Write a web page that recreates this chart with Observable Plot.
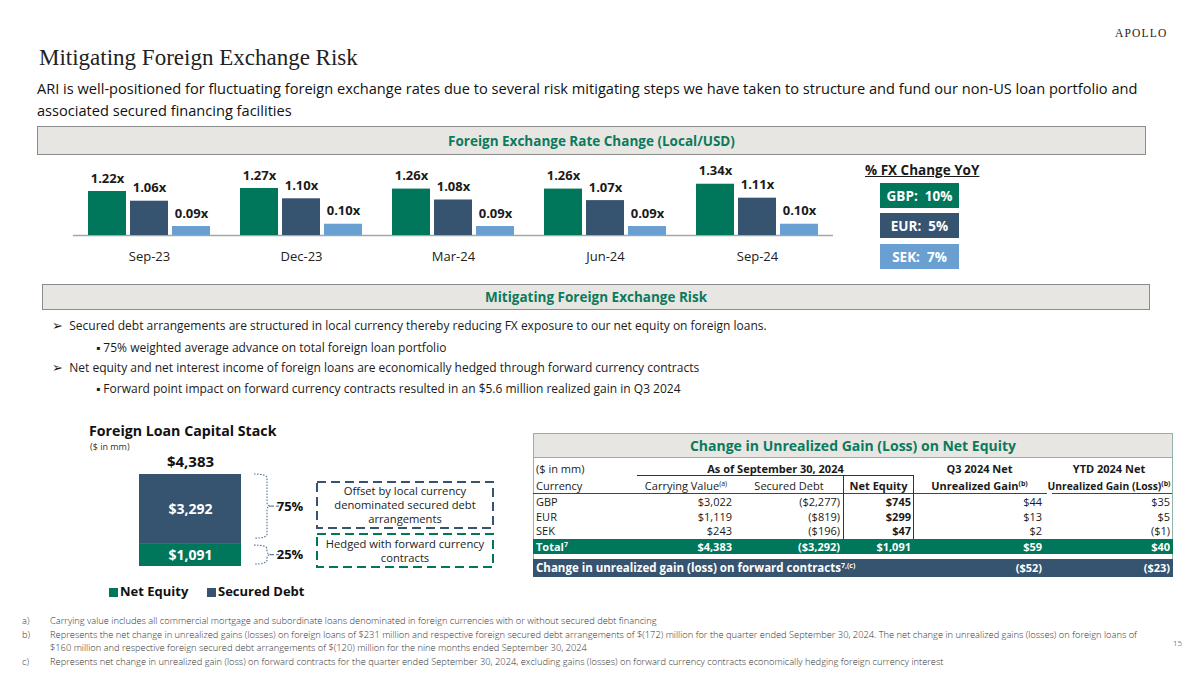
<!DOCTYPE html>
<html><head><meta charset="utf-8">
<script src="https://cdn.jsdelivr.net/npm/d3@7"></script>
<script src="https://cdn.jsdelivr.net/npm/@observablehq/plot@0.6"></script>
<style>
body{margin:0;background:#fff;}
#page{position:relative;width:1200px;height:675px;overflow:hidden;font-family:"Open Sans",sans-serif;color:#1a1a1a;}
.abs{position:absolute;white-space:nowrap;}
.band{position:absolute;background:#e8e6e3;border:1.5px solid #8c8c8c;box-sizing:border-box;color:#0b7a5c;font-weight:bold;font-size:13.5px;display:flex;align-items:center;justify-content:center;}
.bul{position:absolute;font-size:12px;white-space:nowrap;color:#1a1a1a;}
.legbox{position:absolute;left:880px;width:79px;height:25px;color:#fff;font-weight:bold;font-size:13.5px;display:flex;align-items:center;justify-content:center;white-space:pre;}
.foot{position:absolute;font-size:9.3px;white-space:nowrap;color:#333;font-weight:300;}
.cell{position:absolute;font-size:11px;white-space:nowrap;line-height:14px;}
sup{font-size:7px;line-height:0;vertical-align:4px;}
</style></head><body><div id="page">
<div class="abs" style="left:1115px;top:27px;font-family:'Liberation Serif',serif;font-size:11.5px;letter-spacing:1.2px;color:#222;">APOLLO</div>
<div class="abs" style="left:39px;top:45px;font-family:'Liberation Serif',serif;font-size:23px;color:#222;">Mitigating Foreign Exchange Risk</div>
<div class="abs" style="left:37px;top:77px;font-size:14.6px;line-height:22px;color:#111;">ARI is well-positioned for fluctuating foreign exchange rates due to several risk mitigating steps we have taken to structure and fund our non-US loan portfolio and<br>associated secured financing facilities</div>
<div class="band" style="left:37px;top:126px;width:1109px;height:29px;">Foreign Exchange Rate Change (Local/USD)</div>
<div id="fxA" class="abs" style="left:61px;top:160px;"></div>
<div id="fxB" class="abs" style="left:61px;top:160px;"></div>
<div class="abs" style="left:865px;top:161px;width:109px;text-align:center;font-weight:bold;font-size:13.5px;text-decoration:underline;">% FX Change YoY</div>
<div id="fxLegend"></div>
<div class="band" style="left:42px;top:284px;width:1108px;height:26px;">Mitigating Foreign Exchange Risk</div>
<div class="bul" style="left:52px;top:316px;"><span style="font-size:13px">&#10146;</span>&nbsp;&nbsp;Secured debt arrangements are structured in local currency thereby reducing FX exposure to our net equity on foreign loans.</div>
<div class="bul" style="left:96px;top:339px;">&#9642; 75% weighted average advance on total foreign loan portfolio</div>
<div class="bul" style="left:52px;top:358px;"><span style="font-size:13px">&#10146;</span>&nbsp;&nbsp;Net equity and net interest income of foreign loans are economically hedged through forward currency contracts</div>
<div class="bul" style="left:96px;top:380px;">&#9642; Forward point impact on forward currency contracts resulted in an $5.6 million realized gain in Q3 2024</div>
<div class="abs" style="left:89px;top:421px;font-weight:bold;font-size:14.2px;color:#111;">Foreign Loan Capital Stack</div>
<div class="abs" style="left:90px;top:440px;font-size:9px;color:#333;">($ in mm)</div>
<div id="stack" class="abs" style="left:100px;top:440px;"></div>
<div id="notes"></div>
<div id="stackLegend"></div>
<div id="table"></div>
<div class="foot" style="left:22px;top:614px;">a)</div>
<div class="foot" style="left:50px;top:614px;">Carrying value includes all commercial mortgage and subordinate loans denominated in foreign currencies with or without secured debt financing</div>
<div class="foot" style="left:22px;top:628px;">b)</div>
<div class="foot" style="left:50px;top:628px;">Represents the net change in unrealized gains (losses) on foreign loans of $231 million and respective foreign secured debt arrangements of $(172) million for the quarter ended September 30, 2024. The net change in unrealized gains (losses) on foreign loans of</div>
<div class="foot" style="left:50px;top:641px;">$160 million and respective foreign secured debt arrangements of $(120) million for the nine months ended September 30, 2024</div>
<div class="foot" style="left:22px;top:655px;">c)</div>
<div class="foot" style="left:50px;top:655px;">Represents net change in unrealized gain (loss) on forward contracts for the quarter ended September 30, 2024, excluding gains (losses) on forward currency contracts economically hedging foreign currency interest</div>
<div class="foot" style="left:1173px;top:637px;font-size:8px;">15</div>
</div>
<script>
// ---------- data ----------
const periods = ["Sep-23", "Dec-23", "Mar-24", "Jun-24", "Sep-24"];
const currencies = ["GBP", "EUR", "SEK"];
const gbpRate = [1.22, 1.27, 1.26, 1.26, 1.34];
const eurRate = [1.06, 1.10, 1.08, 1.07, 1.11];
const sekRate = [0.09, 0.10, 0.09, 0.09, 0.10];
const fxChangeYoY = ["10%", "5%", "7%"];
const currencyColors = ["#00775a", "#36536f", "#6a9fd2"];
const primaryDomain = [0.495, 1.731];   // GBP / EUR axis
const secondaryDomain = [0.051, 0.377]; // SEK axis

const stackLoan = "Foreign loans";
const stackCategories = ["Net Equity", "Secured Debt"];
const stackValues = [1091, 3292];
const stackShares = ["25%", "75%"];
const stackNotes = [["Hedged with forward currency", "contracts"], ["Offset by local currency", "denominated secured debt", "arrangements"]];

const tableCurrencies = ["GBP", "EUR", "SEK"];
const carryingValue = [3022, 1119, 243];
const securedDebt = [-2277, -819, -196];
const netEquity = [745, 299, 47];
const q3Gain = [44, 13, 2];
const ytdGain = [35, 5, -1];
const totalRow = [4383, -3292, 1091, 59, 40];
const forwardContracts = [-52, -23];

const green = currencyColors[0], slate = currencyColors[1];
const fmt = d3.format(",");
const money = v => v < 0 ? `($${fmt(-v)})` : `$${fmt(v)}`;

// ---------- FX chart ----------
const fxRows = periods.flatMap((p, i) => [
  {period: p, currency: "GBP", value: gbpRate[i]},
  {period: p, currency: "EUR", value: eurRate[i]}
]);
const sekRows = periods.map((p, i) => ({period: p, currency: "SEK", value: sekRate[i]}));

function fxPlot(rows, yDomain, showAxis) {
  return Plot.plot({
    width: 785, height: 105, marginLeft: 10, marginRight: 12, marginTop: 0, marginBottom: 30,
    style: {background: "transparent", overflow: "visible", fontFamily: "Open Sans", fontSize: "13px", color: "#222"},
    facet: {data: rows, x: "period"},
    fx: {domain: periods, padding: 0, label: null, axis: showAxis ? "bottom" : null, tickSize: 0, tickPadding: 16},
    x: {domain: currencies, paddingInner: 0.1, paddingOuter: 0.337, axis: null},
    y: {domain: yDomain, clamp: true, axis: null},
    color: {domain: currencies, range: currencyColors},
    marks: [
      showAxis ? Plot.ruleY([yDomain[0]], {stroke: "#a6a6a6", strokeWidth: 1.5}) : null,
      Plot.barY(rows, {x: "currency", y: "value", fill: "currency"}),
      Plot.text(rows, {x: "currency", y: "value", text: d => d.value.toFixed(2) + "x", dy: -13,
        fontWeight: "bold", fontSize: 13, fill: "#1a1a1a"})
    ]
  });
}
document.getElementById("fxA").appendChild(fxPlot(fxRows, primaryDomain, true));
document.getElementById("fxB").appendChild(fxPlot(sekRows, secondaryDomain, false));

const legTops = [183, 213, 244];
document.getElementById("fxLegend").innerHTML = currencies.map((c, i) =>
  `<div class="legbox" style="top:${legTops[i]}px;background:${currencyColors[i]};">${c}:  ${fxChangeYoY[i]}</div>`).join("");

// ---------- capital stack ----------
const stackRows = stackCategories.map((c, i) => ({loan: stackLoan, type: c, value: stackValues[i]}));
const total = d3.sum(stackValues);

function braces(index, scales, values, dims) {
  const g = d3.create("svg:g");
  const xr = dims.width - dims.marginRight;
  const segs = [
    {hi: total, lo: stackValues[0], share: stackShares[1], gt: 0, gb: 5},
    {hi: stackValues[0], lo: 0, share: stackShares[0], gt: 2, gb: 2}
  ];
  for (const s of segs) {
    const y0 = scales.y(s.hi) + s.gt, y1 = scales.y(s.lo) - s.gb, ym = (y0 + y1) / 2;
    const x0 = xr + 13, xm = xr + 26, xt = xr + 30, r = 4;
    g.append("path")
      .attr("d", `M${x0},${y0}Q${xm},${y0} ${xm},${y0 + r}L${xm},${ym - r}Q${xm},${ym} ${xt},${ym}Q${xm},${ym} ${xm},${ym + r}L${xm},${y1 - r}Q${xm},${y1} ${x0},${y1}`)
      .attr("fill", "none").attr("stroke", "#5d7fa3").attr("stroke-width", 1.2).attr("stroke-dasharray", "1.5,1.5");
    g.append("line").attr("x1", xt).attr("x2", xt + 11).attr("y1", ym).attr("y2", ym)
      .attr("stroke", "#5d7fa3").attr("stroke-width", 1.2).attr("stroke-dasharray", "3,2");
    g.append("text").attr("x", xt + 19).attr("y", ym).attr("dy", "0.35em")
      .attr("font-weight", "bold").attr("font-size", 13).attr("fill", "#111").text(s.share);
  }
  return g.node();
}

document.getElementById("stack").appendChild(Plot.plot({
  width: 230, height: 140, marginLeft: 39, marginRight: 89, marginTop: 34, marginBottom: 14,
  style: {background: "transparent", overflow: "visible", fontFamily: "Open Sans"},
  x: {domain: [stackLoan], padding: 0, axis: null},
  y: {domain: [0, total], axis: null},
  color: {domain: stackCategories, range: [green, slate]},
  marks: [
    Plot.barY(stackRows, {x: "loan", y: "value", fill: "type"}),
    Plot.text(stackRows, Plot.stackY({x: "loan", y: "value", text: d => money(d.value), fill: "white", fontWeight: "bold", fontSize: 14})),
    Plot.text([total], {x: () => stackLoan, y: d => d, text: d => money(d), dy: -12, fontWeight: "bold", fontSize: 15, fill: "#111"}),
    braces
  ]
}));

// dashed note boxes
const noteBoxes = [
  {top: 533, h: 35, color: green, lines: stackNotes[0]},
  {top: 481, h: 48, color: slate, lines: stackNotes[1]}
];
document.getElementById("notes").innerHTML = noteBoxes.map(b =>
  `<div class="abs" style="left:316px;top:${b.top}px;width:178px;height:${b.h}px;">
     <svg width="178" height="${b.h}" style="position:absolute;left:0;top:0;overflow:visible"><rect x="1" y="1" width="176" height="${b.h - 2}" fill="none" stroke="${b.color}" stroke-width="2" stroke-dasharray="9,5"/></svg>
     <div style="position:absolute;left:0;top:0;width:178px;height:${b.h}px;display:flex;flex-direction:column;justify-content:center;align-items:center;font-size:11.2px;line-height:14px;color:#222;">${b.lines.map(l => `<div style="height:14px">${l}</div>`).join("")}</div>
   </div>`).join("");

document.getElementById("stackLegend").innerHTML = stackCategories.map((c, i) =>
  `<div class="abs" style="left:${[109, 207][i]}px;top:588px;width:9px;height:9px;background:${[green, slate][i]}"></div>
   <div class="abs" style="left:${[120, 218][i]}px;top:582px;font-weight:bold;font-size:13px;color:#111;">${c}</div>`).join("");

// ---------- table ----------
const colEdges = [533, 620, 735, 843, 914, 1045, 1173];
function cellHTML(col, y, text, opts = {}) {
  const l = colEdges[col], w = (opts.span ? colEdges[col + opts.span] : colEdges[col + 1]) - l;
  const align = opts.align || "right";
  const pad = align === "right" ? "padding-right:3px;" : align === "left" ? "padding-left:3px;" : "";
  return `<div class="cell" style="left:${l}px;top:${y - 7}px;width:${w}px;box-sizing:border-box;text-align:${align};${pad}${opts.bold ? "font-weight:bold;" : ""}color:${opts.color || "#1a1a1a"};${opts.extra || ""}">${text}</div>`;
}
let t = "";
t += `<div class="abs" style="left:533px;top:433px;width:640px;height:144px;border-left:1.5px solid #8fb3a6;border-right:1.5px solid #8fb3a6;box-sizing:border-box;"></div>`;
t += `<div class="band" style="left:533px;top:433px;width:640px;height:25px;border-color:#8fb3a6;font-size:14px;">Change in Unrealized Gain (Loss) on Net Equity</div>`;
t += cellHTML(0, 469, "($ in mm)", {align: "left"});
t += `<div class="cell" style="left:637px;top:462px;width:277px;text-align:center;font-weight:bold;border-bottom:1px solid #333;height:13px;">As of September 30, 2024</div>`;
t += cellHTML(4, 469, "Q3 2024 Net", {align: "center", bold: true});
t += cellHTML(5, 469, "YTD 2024 Net", {align: "center", bold: true});
t += cellHTML(0, 486, "Currency", {align: "left"});
t += `<div class="cell" style="left:620px;top:479px;width:132px;text-align:center;">Carrying Value<sup>(a)</sup></div>`;
t += cellHTML(2, 486, "Secured Debt", {align: "center"});
t += cellHTML(3, 486, "Net Equity", {align: "center", bold: true});
t += cellHTML(4, 486, "Unrealized Gain<sup>(b)</sup>", {align: "center", bold: true});
t += cellHTML(5, 486, "Unrealized Gain (Loss)<sup>(b)</sup>", {align: "center", bold: true, extra: "font-size:10.3px;"});
t += `<div class="abs" style="left:533px;top:493px;width:514px;height:0;border-top:1px solid #444;"></div>`;
t += `<div class="abs" style="left:1052px;top:493px;width:120px;height:0;border-top:1px solid #444;"></div>`;
t += `<div class="abs" style="left:843px;top:475px;width:71px;height:64px;border-left:1px solid #333;border-right:1px solid #333;box-sizing:border-box;"></div>`;
const rowY = [502, 517, 531];
tableCurrencies.forEach((c, i) => {
  t += cellHTML(0, rowY[i], c, {align: "left"});
  t += cellHTML(1, rowY[i], money(carryingValue[i]));
  t += cellHTML(2, rowY[i], money(securedDebt[i]));
  t += cellHTML(3, rowY[i], money(netEquity[i]), {bold: true});
  t += cellHTML(4, rowY[i], money(q3Gain[i]));
  t += cellHTML(5, rowY[i], money(ytdGain[i]));
});
t += `<div class="abs" style="left:533px;top:539px;width:640px;height:15px;background:${green};"></div>`;
t += cellHTML(0, 546.5, "Total<sup>7</sup>", {align: "left", bold: true, color: "#fff"});
totalRow.forEach((v, i) => { t += cellHTML(i + 1, 546.5, money(v), {bold: true, color: "#fff"}); });
t += `<div class="abs" style="left:533px;top:559px;width:640px;height:18px;background:${slate};"></div>`;
t += `<div class="cell" style="left:536px;top:561px;font-weight:bold;color:#fff;font-size:11.5px;">Change in unrealized gain (loss) on forward contracts<sup>7,(c)</sup></div>`;
forwardContracts.forEach((v, i) => { t += cellHTML(i + 4, 568, money(v), {bold: true, color: "#fff"}); });
document.getElementById("table").innerHTML = t;
</script>
</body></html>
